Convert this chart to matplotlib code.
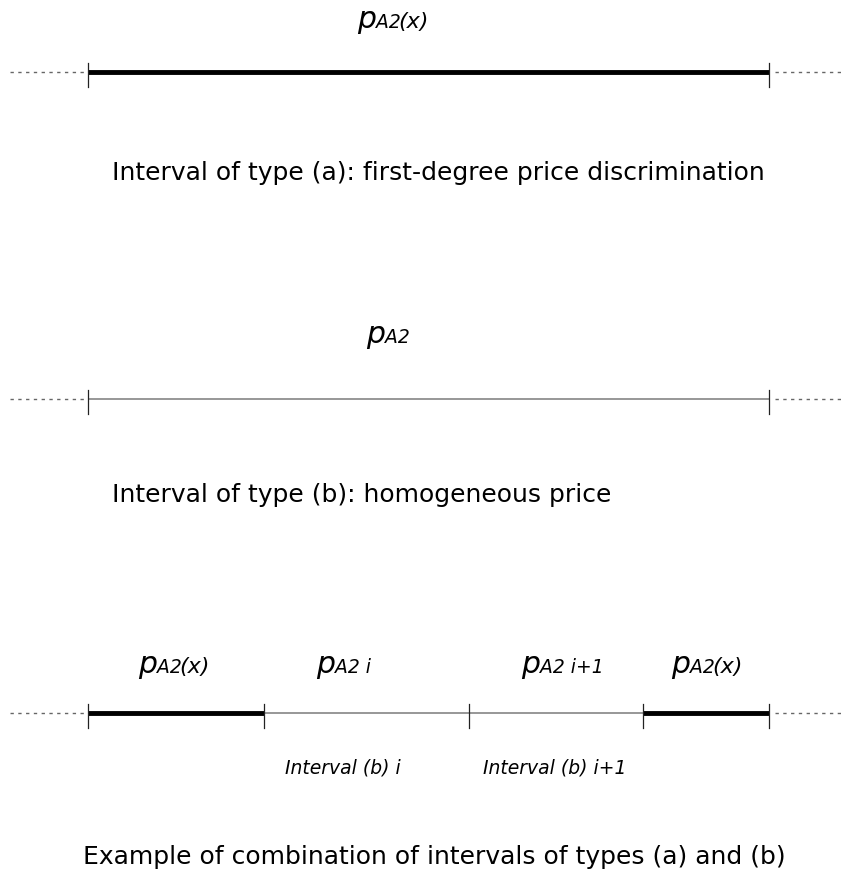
import matplotlib
matplotlib.use("Agg")
import matplotlib.pyplot as plt

plt.rcParams['font.family'] = ['DejaVu Sans']

# ---- data (normalised positions along the price line, 0 = left end, 1 = right end)
row_y = [72, 399, 713]                     # vertical position of each row (pixel units, top = 0)
row1_breaks = [0.0, 1.0]
row1_kind = ['a']
row2_breaks = [0.0, 1.0]
row2_kind = ['b']
row3_breaks = [0.0, 0.2584, 0.5595, 0.8150, 1.0]
row3_kind = ['a', 'b', 'b', 'a']
row1_label = [('A2', 13.5), ('(x)', 16)]
row2_label = [('A2', 13.5)]
row3_labels = [[('A2', 13.5), ('(x)', 16)],
               [('A2 i', 13.5)],
               [('A2 i+1', 13.5)],
               [('A2', 13.5), ('(x)', 16)]]
row3_label_x = [0.1013, 0.3627, 0.6637, 0.8840]   # junction between "p" and subscript
row3_small = ['Interval (b) i', 'Interval (b) i+1']
row3_small_x = [0.2893, 0.5800]
captions = ['Interval of type (a): first-degree price discrimination',
            'Interval of type (b): homogeneous price',
            'Example of combination of intervals of types (a) and (b)']
caption_x = [0.0352, 0.0352, -0.0073]
caption_y = [180, 502, 864]

W, H = 841, 875
fig = plt.figure(figsize=(W / 100, H / 100), dpi=100)
ax = fig.add_axes([0, 0, 1, 1])
scale = 769 - 88          # data 0 -> pixel 88, data 1 -> pixel 769
ax.set_xlim(-88 / scale, 1 + (W - 769) / scale)
ax.set_ylim(H, 0)
ax.axis('off')

thick = dict(color='black', lw=3.5, solid_capstyle='butt')
thin = dict(color='#7a7a7a', lw=1.1, solid_capstyle='butt')


def draw_row(y, breaks, kinds):
    for (a, b), k in zip(zip(breaks[:-1], breaks[1:]), kinds):
        ax.plot([a, b], [y, y], **(thick if k == 'a' else thin))
    for bx in breaks:
        ax.plot([bx, bx], [y - 9, y + 15], color='#222222', lw=0.9)
    ax.plot([-78 / scale, -4 / scale], [y, y], color='#666666', lw=1.0,
            dashes=(2.4, 3.2))
    ax.plot([1 + 6 / scale, 1 + 72 / scale], [y, y], color='#666666', lw=1.0,
            dashes=(2.4, 3.2))


renderer = fig.canvas.get_renderer()


def plabel(x, y, pieces):
    ax.text(x, y, 'p', fontsize=21.5, style='italic', ha='right', va='baseline')
    cur = x
    for s, fs in pieces:
        t = ax.text(cur, y, s, fontsize=fs, style='italic', ha='left', va='baseline')
        bb = t.get_window_extent(renderer)
        cur = ax.transData.inverted().transform((bb.x1 - 2.0, 0))[0]


draw_row(row_y[0], row1_breaks, row1_kind)
draw_row(row_y[1], row2_breaks, row2_kind)
draw_row(row_y[2], row3_breaks, row3_kind)

plabel((376 - 88) / scale, 28, row1_label)
plabel((385 - 88) / scale, 343, row2_label)
for lx, pcs in zip(row3_label_x, row3_labels):
    plabel(lx, 673, pcs)

for sx, s in zip(row3_small_x, row3_small):
    ax.text(sx, 773, s, fontsize=13.5, style='italic', ha='left', va='baseline')

for cx, cy, c in zip(caption_x, caption_y, captions):
    ax.text(cx, cy, c, fontsize=18, ha='left', va='baseline')

fig.savefig('out.png', dpi=100)
